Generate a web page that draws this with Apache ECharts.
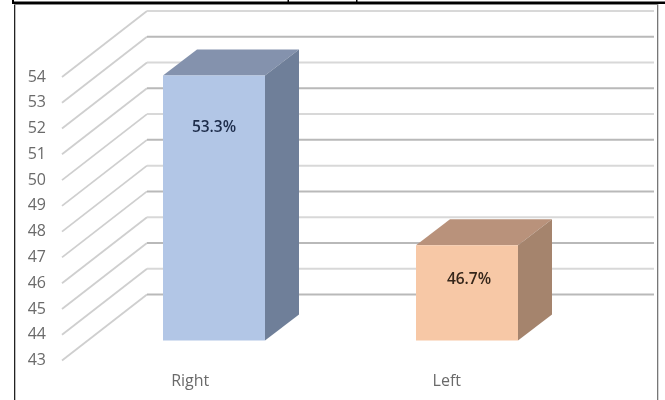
<!DOCTYPE html>
<html>
<head>
<meta charset="utf-8">
<style>html,body{margin:0;padding:0;background:#fff}#c{width:665px;height:400px}</style>
<script src="https://cdn.jsdelivr.net/npm/echarts@6/dist/echarts.min.js"></script>
</head>
<body>
<div id="c"></div>
<script>
const categories = ['Right', 'Left'];
const values = [53.3, 46.7];
const valueLabels = ['53.3%', '46.7%'];
const gridTicks = [43, 44, 45, 46, 47, 48, 49, 50, 51, 52, 53, 54];

const frontColors = ['#b2c6e6', '#f7c8a6'];
const topColors = ['#8492ad', '#b9927b'];
const sideColors = ['#6f7f99', '#a5846d'];
const labelColors = ['#1d2c4a', '#35261a'];
const labelDrop = [52, 34];
const labelShift = [0, 2];

const WALL_DX = 85, WALL_DY = -66, WALL_END = 654;
const BAR_DX = 34, BAR_DY = -26, BAR_W = 102;
const FONT = '"Open Sans", sans-serif';

const chart = echarts.init(document.getElementById('c'), null, {renderer: 'canvas'});

function renderGrid(params, api) {
  const v = api.value(0);
  const p = api.coord([0, v]);
  const x0 = params.coordSys.x, y0 = p[1];
  const isDark = (v % 2) === 1;
  return {
    type: 'group',
    children: [
      {type: 'polyline', shape: {points: [[x0, y0], [x0 + WALL_DX, y0 + WALL_DY]]},
        style: {stroke: '#cfcfcf', lineWidth: 1.8, fill: null}},
      {type: 'polyline', shape: {points: [[x0 + WALL_DX, y0 + WALL_DY], [WALL_END, y0 + WALL_DY]]},
        style: {stroke: isDark ? '#b9b9b9' : '#d8d8d8', lineWidth: 2, fill: null}}
    ]
  };
}

function renderBar(params, api) {
  const i = params.dataIndex;
  const top = api.coord([i, api.value(1)]);
  const base = api.coord([i, 43]);
  const l = top[0] - BAR_W / 2, r = top[0] + BAR_W / 2, t = top[1], b = base[1];
  return {
    type: 'group',
    children: [
      {type: 'polygon', shape: {points: [[l, t], [r, t], [r + BAR_DX, t + BAR_DY], [l + BAR_DX, t + BAR_DY]]},
        style: {fill: topColors[i]}},
      {type: 'polygon', shape: {points: [[r, t], [r + BAR_DX, t + BAR_DY], [r + BAR_DX, b + BAR_DY], [r, b]]},
        style: {fill: sideColors[i]}},
      {type: 'rect', shape: {x: l, y: t, width: BAR_W, height: b - t},
        style: {fill: frontColors[i]}},
      {type: 'text', style: {x: top[0] + labelShift[i], y: t + labelDrop[i], text: valueLabels[i],
        fill: labelColors[i], font: '600 15.5px ' + FONT, align: 'center', verticalAlign: 'middle'}}
    ]
  };
}

chart.setOption({
  animation: false,
  backgroundColor: '#ffffff',
  grid: [
    {left: 62, top: 77, width: 513, height: 283.5},
    {left: 87.5, top: 57.5, width: 506, height: 283}
  ],
  xAxis: [
    {type: 'category', gridIndex: 0, data: categories,
      axisLine: {show: false}, axisTick: {show: false}, splitLine: {show: false},
      axisLabel: {color: '#6a6a6a', fontFamily: FONT, fontSize: 16, margin: 13}},
    {type: 'category', gridIndex: 1, data: categories, show: false}
  ],
  yAxis: [
    {type: 'value', gridIndex: 0, min: 43, max: 54, interval: 1,
      axisLine: {show: false}, axisTick: {show: false}, splitLine: {show: false},
      axisLabel: {color: '#6a6a6a', fontFamily: FONT, fontSize: 16, margin: 16}},
    {type: 'value', gridIndex: 1, min: 43, max: 54, interval: 1, show: false, splitLine: {show: false}}
  ],
  series: [
    {type: 'custom', xAxisIndex: 0, yAxisIndex: 0, z: 1, clip: false,
      renderItem: renderGrid, encode: {y: 0},
      data: gridTicks.map(t => [t])},
    {type: 'custom', xAxisIndex: 1, yAxisIndex: 1, z: 5, clip: false,
      renderItem: renderBar, encode: {x: 0, y: 1},
      data: values.map((v, i) => [i, v])}
  ],
  graphic: [
    {type: 'rect', z: 20, shape: {x: 12, y: 1.5, width: 653, height: 2.5}, style: {fill: '#000'}},
    {type: 'rect', z: 20, shape: {x: 12, y: 0, width: 2, height: 4}, style: {fill: '#000'}},
    {type: 'rect', z: 20, shape: {x: 287.5, y: 0, width: 1.5, height: 4}, style: {fill: '#000'}},
    {type: 'rect', z: 20, shape: {x: 356, y: 0, width: 1.5, height: 4}, style: {fill: '#000'}},
    {type: 'rect', z: 20, shape: {x: 14, y: 4, width: 1.3, height: 396}, style: {fill: '#222'}},
    {type: 'rect', z: 20, shape: {x: 657, y: 4, width: 1.3, height: 396}, style: {fill: '#777'}},
    {type: 'rect', z: 20, shape: {x: 14, y: 4, width: 644, height: 1}, style: {fill: '#888'}}
  ]
});
</script>
</body>
</html>
